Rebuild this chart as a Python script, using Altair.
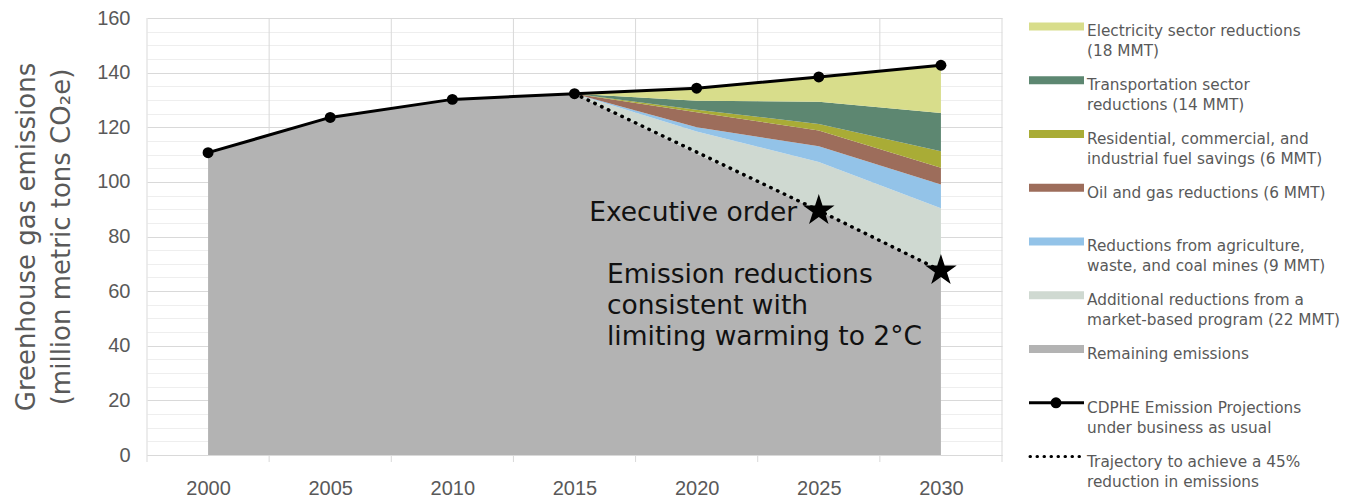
import altair as alt
import pandas as pd

# ---- data ----
years = [2000, 2005, 2010, 2015, 2020, 2025, 2030]
bau = [110.7, 123.6, 130.2, 132.3, 134.3, 138.4, 142.7]
remaining = [110.7, 123.6, 130.2, 132.3, 110.3, 89.5, 67.5]

proj_years = [2015, 2020, 2025, 2030]
market = [0, 8.1, 17.8, 22.8]
agriculture = [0, 1.6, 5.7, 8.7]
oil_gas = [0, 5.5, 5.8, 6.2]
residential = [0, 0.9, 2.4, 6.0]
transport = [0, 3.3, 8.1, 14.0]
electricity = [0, 4.6, 9.1, 17.5]

trajectory_years = [2015, 2025, 2030]
trajectory = [132.3, 89.5, 67.5]
star_years = [2025, 2030]
star_values = [89.5, 67.5]

categories = [
    "Remaining emissions",
    "Additional reductions from a market-based program (22 MMT)",
    "Reductions from agriculture, waste, and coal mines (9 MMT)",
    "Oil and gas reductions (6 MMT)",
    "Residential, commercial, and industrial fuel savings (6 MMT)",
    "Transportation sector reductions (14 MMT)",
    "Electricity sector reductions (18 MMT)",
]
colors = ["#b3b3b3", "#cfd9d1", "#93c3e8", "#9d6d5b", "#a9ac36", "#5d8771", "#d8dd8b"]

legend_labels = [
    "Electricity sector reductions\n(18 MMT)",
    "Transportation sector\nreductions (14 MMT)",
    "Residential, commercial, and\nindustrial fuel savings (6 MMT)",
    "Oil and gas reductions (6 MMT)",
    "Reductions from agriculture,\nwaste, and coal mines (9 MMT)",
    "Additional reductions from a\nmarket-based program (22 MMT)",
    "Remaining emissions",
    "CDPHE Emission Projections\nunder business as usual",
    "Trajectory to achieve a 45%\nreduction in emissions",
]
legend_cats = categories[::-1]

ann_text = ["Executive order", "Emission reductions", "consistent with", "limiting warming to 2°C"]
ann_x = [2015.6, 2016.33, 2016.33, 2016.33]
ann_y = [88.6, 65.9, 54.6, 43.2]

band_edges = [1997.5 + 5 * i for i in range(8)]
y_grid_vals = list(range(0, 161, 5))

STAR = ("M0,-1L0.2245,-0.309L0.9511,-0.309L0.3633,0.118L0.5878,0.809L0,0.382"
        "L-0.5878,0.809L-0.3633,0.118L-0.9511,-0.309L-0.2245,-0.309Z")

# ---- tables (stack computed from the arrays) ----
rows = []
series = [market, agriculture, oil_gas, residential, transport, electricity]
for y, v in zip(years, remaining):
    rows.append({"year": y, "cat": categories[0], "lo": 0.0, "value": v})
for i, y in enumerate(proj_years):
    base = remaining[years.index(y)]
    for k, s in enumerate(series, start=1):
        rows.append({"year": y, "cat": categories[k], "lo": base, "value": base + s[i]})
        base += s[i]
area_df = pd.DataFrame(rows)

bau_df = pd.DataFrame({"year": years, "value": bau})
traj_df = pd.DataFrame({"year": trajectory_years, "value": trajectory})
star_df = pd.DataFrame({"year": star_years, "value": star_values})
ann_df = pd.DataFrame({"year": ann_x, "value": ann_y, "text": ann_text})
edge_df = pd.DataFrame({"year": band_edges})

W, H = 855, 437
GRAY = "#595959"
xscale = alt.Scale(domain=[1997.5, 2032.5], nice=False, zero=False)
yscale = alt.Scale(domain=[0, 160], nice=False)

xaxis = alt.Axis(values=years, format="d", grid=False, ticks=False,
                 domainColor="#d9d9d9", labelFont="Liberation Sans",
                 labelFontSize=20, labelColor=GRAY, labelPadding=23, title=None)
yaxis = alt.Axis(values=y_grid_vals, grid=True,
                 gridColor={"condition": {"test": "datum.value % 20 === 0",
                                          "value": "#d9d9d9"},
                            "value": "#eeeeee"},
                 labelExpr="datum.value % 20 === 0 ? datum.label : ''",
                 domain=False, ticks=False, labelFont="Liberation Sans",
                 labelFontSize=20, labelColor=GRAY, labelPadding=17,
                 title=["Greenhouse gas emissions", "(million metric tons CO\u2082e)"],
                 titleFont="DejaVu Sans", titleFontSize=26, titleFontWeight="normal",
                 titleColor=GRAY, titlePadding=22, titleLineHeight=35)


def X(field="year:Q"):
    return alt.X(field, scale=xscale, axis=xaxis)


def Y(field="value:Q"):
    return alt.Y(field, scale=yscale, axis=yaxis)


vgrid = alt.Chart(edge_df).mark_rule(color="#d9d9d9", strokeWidth=1).encode(
    x=X(), y=alt.value(0), y2=alt.value(H + 7),
)
areas = alt.Chart(area_df).mark_area(interpolate="linear").encode(
    x=X(), y=Y(), y2="lo:Q",
    color=alt.Color("cat:N", scale=alt.Scale(domain=categories, range=colors), legend=None),
)
traj = alt.Chart(traj_df).mark_line(color="black", strokeWidth=3.5, strokeDash=[0.5, 7],
                                    strokeCap="round").encode(x=X(), y=Y())
bau_line = alt.Chart(bau_df).mark_line(color="black", strokeWidth=3).encode(x=X(), y=Y())
bau_pts = alt.Chart(bau_df).mark_point(filled=True, color="black", size=120,
                                       opacity=1).encode(x=X(), y=Y())
stars = alt.Chart(star_df).mark_point(shape=STAR, filled=True, color="black", size=1100,
                                      opacity=1).encode(x=X(), y=Y())
ann = alt.Chart(ann_df).mark_text(align="left", baseline="middle", font="DejaVu Sans",
                                  fontSize=26.5, color="#111111").encode(
    x=X(), y=Y(), text="text:N")

main = alt.layer(vgrid, areas, traj, bau_line, bau_pts, stars, ann).properties(
    width=W, height=H)

# ---- custom legend panel ----
leg_df = pd.DataFrame({"row": list(range(9)), "label": legend_labels})
leg_fill_df = pd.DataFrame({"row": list(range(7)), "cat": legend_cats})
bau_row = pd.DataFrame({"row": [7]})
traj_row = pd.DataFrame({"row": [8]})
lyscale = alt.Scale(domain=[-0.158, 7.972], nice=False, zero=False, reverse=True)

leg_sym = alt.Chart(leg_fill_df).mark_rule(strokeWidth=8).encode(
    y=alt.Y("row:Q", scale=lyscale, axis=None),
    x=alt.value(0), x2=alt.value(55),
    color=alt.Color("cat:N", scale=alt.Scale(domain=categories, range=colors), legend=None),
)
leg_bau = alt.Chart(bau_row).mark_rule(strokeWidth=3, color="black").encode(
    y=alt.Y("row:Q", scale=lyscale, axis=None), x=alt.value(0), x2=alt.value(55))
leg_bau_pt = alt.Chart(bau_row).mark_point(filled=True, color="black", size=120,
                                           opacity=1).encode(
    y=alt.Y("row:Q", scale=lyscale, axis=None), x=alt.value(27))
leg_traj = alt.Chart(traj_row).mark_rule(strokeWidth=3, color="black",
                                         strokeDash=[0.5, 6.5],
                                         strokeCap="round").encode(
    y=alt.Y("row:Q", scale=lyscale, axis=None), x=alt.value(1), x2=alt.value(55))
leg_text = alt.Chart(leg_df).mark_text(align="left", baseline="top", dy=-2, lineBreak="\n",
                                       lineHeight=20, font="DejaVu Sans", fontSize=15.3,
                                       color=GRAY).encode(
    y=alt.Y("row:Q", scale=lyscale, axis=None), x=alt.value(58), text="label:N")

legend = alt.layer(leg_sym, leg_bau, leg_bau_pt, leg_traj, leg_text).properties(
    width=270, height=H)

chart = alt.hconcat(main, legend, spacing=22).properties(
    padding={"left": 5, "top": 0, "right": 5, "bottom": 0}
).configure_view(stroke=None)

chart.save("out.html", embed_options={"renderer": "svg", "actions": False})
